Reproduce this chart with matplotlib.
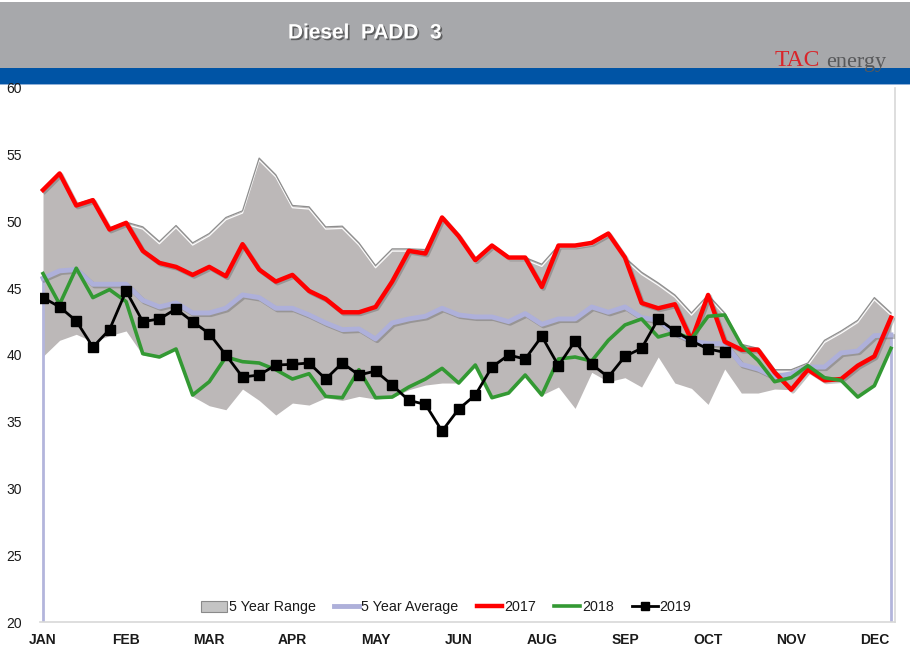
import numpy as np
import matplotlib
matplotlib.use('Agg')
import matplotlib.pyplot as plt
import matplotlib.patheffects as pe
from matplotlib.patches import Rectangle, Patch
from matplotlib.lines import Line2D

# ---------------- data ----------------
month_labels = ['JAN', 'FEB', 'MAR', 'APR', 'MAY', 'JUN', 'AUG', 'SEP', 'OCT', 'NOV', 'DEC']
y_ticks = [20, 25, 30, 35, 40, 45, 50, 55, 60]

range_upper = [52.4, 53.6, 51.3, 51.7, 49.5, 49.95, 49.6, 48.5, 49.7, 48.4,
               49.1, 50.3, 50.8, 54.75, 53.5, 51.2, 51.1, 49.6, 49.65, 48.4,
               46.7, 47.95, 47.95, 47.9, 50.3, 48.9, 47.1, 48.2, 47.3, 47.3,
               46.8, 48.2, 48.2, 48.4, 49.1, 47.3, 46.2, 45.4, 44.5, 43.15,
               44.5, 43.15, 40.8, 40.5, 38.9, 38.9, 39.4, 41.1, 41.8, 42.6,
               44.3, 43.15]
range_lower = [39.9, 41.1, 41.55, 41.0, 41.45, 41.8, 40.0, 39.8, 40.4, 36.9,
               36.2, 35.9, 37.45, 36.6, 35.5, 36.4, 36.25, 36.8, 36.6, 36.9,
               36.7, 36.8, 37.4, 37.75, 37.9, 37.9, 39.2, 36.8, 37.15, 38.4,
               37.0, 37.6, 36.0, 38.7, 38.0, 38.3, 37.6, 39.85, 37.9, 37.5,
               36.3, 38.95, 37.15, 37.15, 37.45, 37.4, 38.8, 38.0, 38.1, 36.85,
               37.7, 40.5]
avg5 = [45.75, 46.3, 46.4, 45.3, 45.3, 45.3, 44.1, 43.6, 43.9, 43.15,
        43.15, 43.5, 44.5, 44.3, 43.5, 43.5, 43.0, 42.4, 41.9, 41.95,
        41.2, 42.4, 42.7, 42.9, 43.5, 43.0, 42.85, 42.85, 42.5, 43.1,
        42.3, 42.7, 42.7, 43.6, 43.2, 43.6, 42.8, 42.6, 41.65, 41.05,
        40.85, 40.85, 39.3, 38.95, 38.35, 38.6, 39.1, 39.1, 40.15, 40.3,
        41.45, 41.5]
y2017 = [52.36, 53.6, 51.2, 51.6, 49.4, 49.9, 47.8, 46.9, 46.6, 46.0,
         46.6, 45.9, 48.3, 46.4, 45.5, 46.0, 44.8, 44.2, 43.2, 43.2,
         43.6, 45.5, 47.8, 47.6, 50.3, 48.9, 47.1, 48.2, 47.3, 47.3,
         45.1, 48.2, 48.2, 48.4, 49.1, 47.3, 43.9, 43.5, 43.8, 41.1,
         44.5, 41.0, 40.4, 40.4, 38.7, 37.4, 38.9, 38.1, 38.2, 39.2,
         39.9, 42.8]
y2018 = [46.1, 43.8, 46.5, 44.3, 44.9, 44.0, 40.1, 39.85, 40.45, 37.0,
         38.0, 39.85, 39.5, 39.4, 38.9, 38.2, 38.6, 36.9, 36.8, 38.9,
         36.8, 36.85, 37.6, 38.2, 39.0, 37.9, 39.25, 36.8, 37.15, 38.5,
         37.0, 39.7, 39.85, 39.55, 41.1, 42.25, 42.7, 41.35, 41.7, 41.2,
         42.9, 43.0, 40.75, 39.6, 38.0, 38.3, 39.2, 38.3, 38.1, 36.85,
         37.7, 40.5]
y2019 = [44.3, 43.6, 42.55, 40.6, 41.9, 44.8, 42.5, 42.7, 43.45, 42.5,
         41.6, 40.0, 38.35, 38.5, 39.25, 39.3, 39.4, 38.2, 39.4, 38.5,
         38.8, 37.75, 36.6, 36.3, 34.3, 35.95, 37.0, 39.1, 40.0, 39.7,
         41.4, 39.2, 41.05, 39.3, 38.35, 39.9, 40.5, 42.7, 41.8, 41.05,
         40.45, 40.2]

weeks = np.arange(len(avg5))
weeks19 = np.arange(len(y2019))

# ---------------- figure ----------------
W, H = 910, 661
fig = plt.figure(figsize=(W / 100, H / 100), dpi=100)
fig.patch.set_facecolor('white')

# header bands
fig.patches.append(Rectangle((0, 1 - 68 / H), 1, 66 / H, transform=fig.transFigure,
                             facecolor='#a7a8ab', edgecolor='none', zorder=-10))
fig.patches.append(Rectangle((0, 1 - 84 / H), 1, 16 / H, transform=fig.transFigure,
                             facecolor='#0054a5', edgecolor='none', zorder=-10))
fig.patches.append(Rectangle((0, 1 - 85 / H), 1, 1.2 / H, transform=fig.transFigure,
                             facecolor='#8fb0d8', edgecolor='none', zorder=-10))

fig.text(365 / W, 1 - 33 / H, 'Diesel  PADD  3', color='white', fontsize=15,
         fontweight='bold', family=['Liberation Sans', 'DejaVu Sans'],
         ha='center', va='center',
         path_effects=[pe.withSimplePatchShadow(offset=(1.2, -1.2), shadow_rgbFace='#404040', alpha=0.7)])

# logo
fig.text(775 / W, 1 - 61 / H, 'TAC', color='#d9252a', fontsize=17,
         family=['Liberation Serif', 'DejaVu Serif'], ha='left', va='center')
fig.text(826 / W, 1 - 63 / H, 'energy', color='#58595b', fontsize=16,
         family=['Liberation Serif', 'DejaVu Serif'], ha='left', va='center')

ax = fig.add_axes([40 / W, (H - 622) / H, 855 / W, 534 / H])
ax.set_facecolor('white')

# 5-year range
ax.fill_between(weeks, range_lower, range_upper, color='#bcb8b8', lw=0, zorder=1)
ax.plot(weeks, range_upper, color='#8e8e8e', lw=0.9, zorder=2,
        path_effects=[pe.SimpleLineShadow(offset=(0, -1.6), shadow_color='white', alpha=0.95),
                      pe.Normal()])

# vertical edges of average area
ax.vlines([weeks[0], weeks[-1]], 20, [avg5[0], avg5[-1]], color='#b3b5dc', lw=2, zorder=2)

shadow = [pe.SimpleLineShadow(offset=(1.2, -1.2), shadow_color='#555555', alpha=0.35), pe.Normal()]
ax.plot(weeks, avg5, color='#aeb0da', lw=3.5, zorder=3, path_effects=shadow)
ax.plot(weeks, y2017, color='#ff0000', lw=3.2, zorder=4, path_effects=shadow)
ax.plot(weeks, y2018, color='#339933', lw=2.6, zorder=5)
ax.plot(weeks19, y2019, color='black', lw=2.0, marker='s', markersize=7, zorder=6)

ax.set_xlim(-3 / 16.63, weeks[-1] + 4 / 16.63)
ax.set_ylim(20, 60)
ax.set_yticks(y_ticks)
ax.set_yticklabels([str(t) for t in y_ticks])
ax.set_xticks(weeks[::5])
ax.set_xticklabels(month_labels)
ax.tick_params(axis='both', length=0)
ax.tick_params(axis='y', pad=13, labelsize=10, labelcolor='#1a1a1a')
ax.tick_params(axis='x', pad=8, labelsize=10, labelcolor='#1a1a1a')
for lbl in ax.get_yticklabels():
    lbl.set_family(['Liberation Sans', 'DejaVu Sans'])
for lbl in ax.get_xticklabels():
    lbl.set_family(['Liberation Sans', 'DejaVu Sans'])
    lbl.set_fontweight('bold')

for s in ['top', 'left']:
    ax.spines[s].set_visible(False)
for s in ['bottom', 'right']:
    ax.spines[s].set_color('#d8d8d8')
    ax.spines[s].set_linewidth(1.2)

handles = [Patch(facecolor='#c4c4c4', edgecolor='#8a8a8a', lw=0.8),
           Line2D([], [], color='#aeb0da', lw=3.5),
           Line2D([], [], color='#ff0000', lw=3.2),
           Line2D([], [], color='#339933', lw=2.6),
           Line2D([], [], color='black', lw=2.0, marker='s', markersize=6)]
labels = ['5 Year Range', '5 Year Average', '2017', '2018', '2019']
leg = ax.legend(handles, labels, ncol=5, loc='center', bbox_to_anchor=(0.475, 0.028),
                frameon=False, handlelength=1.8, handleheight=0.8, handletextpad=0.15,
                columnspacing=1.25, borderaxespad=0,
                prop={'family': ['Liberation Sans', 'DejaVu Sans'], 'size': 10.3})
for t in leg.get_texts():
    t.set_color('#1a1a1a')

fig.savefig('out.png', dpi=100, facecolor=fig.get_facecolor())
